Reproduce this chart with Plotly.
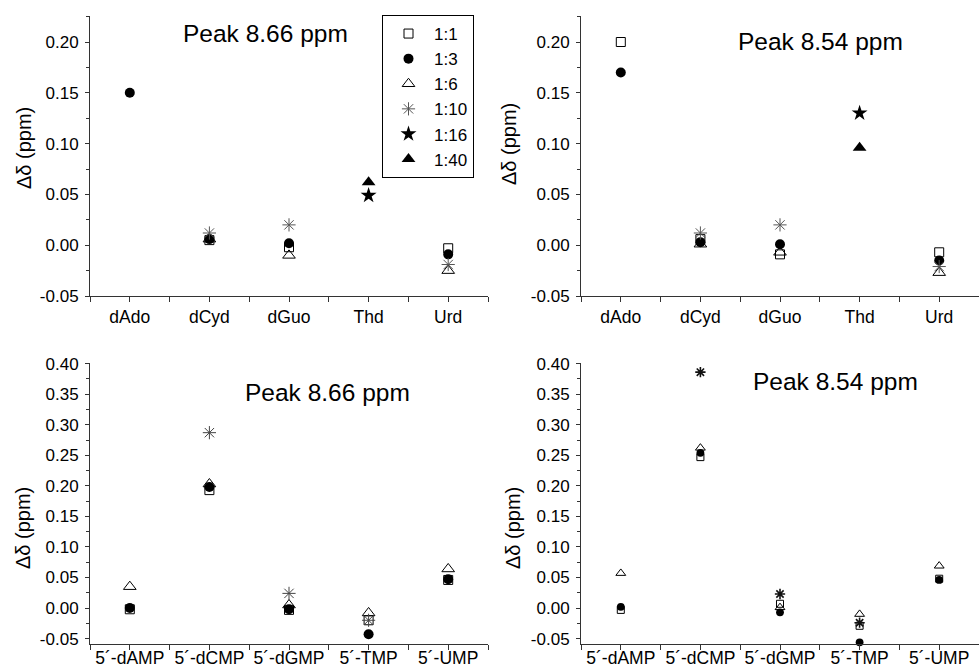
import plotly.graph_objects as go

W, H = 979, 667

nucleosides = ["dAdo", "dCyd", "dGuo", "Thd", "Urd"]
nucleotides = ["5´-dAMP", "5´-dCMP", "5´-dGMP", "5´-TMP", "5´-UMP"]
ratios = ["1:1", "1:3", "1:6", "1:10", "1:16", "1:40"]

# Top-left: nucleosides, peak 8.66 ppm
tl = {
    "1:1":  [None, 0.005, -0.002, None, -0.003],
    "1:3":  [0.150, 0.006, 0.002, None, -0.009],
    "1:6":  [None, 0.006, -0.010, None, -0.025],
    "1:10": [None, 0.012, 0.020, None, -0.019],
    "1:16": [None, None, None, 0.049, None],
    "1:40": [None, None, None, 0.062, None],
}
# Top-right: nucleosides, peak 8.54 ppm
tr = {
    "1:1":  [0.200, 0.006, -0.009, None, -0.007],
    "1:3":  [0.170, 0.003, 0.001, None, -0.015],
    "1:6":  [None, 0.001, -0.007, None, -0.027],
    "1:10": [None, 0.012, 0.020, None, -0.021],
    "1:16": [None, None, None, 0.130, None],
    "1:40": [None, None, None, 0.096, None],
}
# Bottom-left: nucleotides, peak 8.66 ppm
bl = {
    "1:1":  [-0.002, 0.193, -0.003, -0.020, 0.046],
    "1:3":  [0.000, 0.198, -0.002, -0.043, 0.047],
    "1:6":  [0.035, 0.203, 0.005, -0.008, 0.064],
    "1:10": [None, 0.287, 0.024, -0.020, None],
    "1:16": [None, None, None, None, None],
    "1:40": [None, None, None, None, None],
}
# Bottom-right: nucleotides, peak 8.54 ppm
br = {
    "1:1":  [-0.003, 0.247, 0.007, -0.029, 0.048],
    "1:3":  [0.002, 0.254, -0.007, -0.056, 0.046],
    "1:6":  [0.057, 0.262, 0.001, -0.010, 0.069],
    "1:10": [None, 0.386, 0.023, -0.024, None],
    "1:16": [None, None, None, None, None],
    "1:40": [None, None, None, None, None],
}

yticks_top = [-0.05, 0.00, 0.05, 0.10, 0.15, 0.20]
yticks_bot = [-0.05, 0.00, 0.05, 0.10, 0.15, 0.20, 0.25, 0.30, 0.35, 0.40]

styles = {
    "1:1":  dict(symbol="square-open", size=9, color="black", lw=1),
    "1:3":  dict(symbol="circle", size=10, color="black", lw=0),
    "1:6":  dict(symbol="triangle-up-open", size=11, color="black", lw=1),
    "1:10": dict(symbol="asterisk-open", size=11, color="#555555", lw=1),
    "1:16": dict(symbol="star", size=12, color="black", lw=0),
    "1:40": dict(symbol="triangle-up", size=12, color="black", lw=0),
}

FONT = "Liberation Sans, Arial, sans-serif"

def px_x(x):
    return x / W

def px_y(y):
    return 1 - y / H

fig = go.Figure()

panels = [
    (tl, nucleosides, "x", "y", True, 1.0, "#555555"),
    (tr, nucleosides, "x2", "y2", False, 1.0, "#555555"),
    (bl, nucleotides, "x3", "y3", False, 1.0, "#444444"),
    (br, nucleotides, "x4", "y4", False, 0.78, "#111111"),
]

for data, cats, xa, ya, show, scale, astcol in panels:
    xs = list(range(len(cats)))
    for r in ratios:
        st = styles[r]
        col = astcol if r == "1:10" else st["color"]
        lw = st["lw"] * (1.6 if (r == "1:10" and scale < 1) else 1)
        fig.add_trace(go.Scatter(
            x=xs, y=data[r], mode="markers", name=r,
            xaxis=xa, yaxis=ya, legendgroup=r, showlegend=show, cliponaxis=False,
            marker=dict(symbol=st["symbol"], size=st["size"] * scale,
                        color=col, line=dict(width=lw, color=col)),
        ))

ax_common = dict(showline=True, linecolor="#333333", linewidth=1, mirror=False,
                 showgrid=False, zeroline=False, ticks="outside", tickcolor="#333333",
                 tickwidth=1, automargin=False,
                 tickfont=dict(family=FONT, size=17.5, color="black"))

def xaxis(domain, cats, standoff):
    return dict(ax_common, domain=domain, range=[-0.5, 4.5],
                tickmode="array", tickvals=list(range(len(cats))), ticktext=cats,
                ticklen=5, ticklabelstandoff=standoff,
                minor=dict(tickmode="array", tickvals=[i + 0.5 for i in range(-1, len(cats))],
                           ticks="outside", ticklen=5, tickcolor="#333333"))

def yaxis(domain, rng, ticks, anchor):
    return dict(ax_common, domain=domain, range=rng, anchor=anchor,
                tickmode="array", tickvals=ticks, ticktext=[f"{v:.2f}" for v in ticks],
                ticklen=4, ticklabelstandoff=3,
                tickfont=dict(family=FONT, size=17, color="black"),
                minor=dict(tickmode="array",
                           tickvals=[round(v + 0.025, 3) for v in ticks],
                           ticks="outside", ticklen=3, tickcolor="#333333"))

xl = [px_x(90), px_x(488)]
xr = [px_x(581), 1.0]
yt = [px_y(296), px_y(16)]
yb = [px_y(643.5), px_y(363)]

fig.update_layout(
    width=W, height=H, margin=dict(l=0, r=0, t=0, b=0, autoexpand=False),
    paper_bgcolor="white", plot_bgcolor="white",
    font=dict(family=FONT, color="black"),
    xaxis=dict(xaxis(xl, nucleosides, 0), anchor="y"),
    yaxis=yaxis(yt, [-0.05, 0.2256], yticks_top, "x"),
    xaxis2=dict(xaxis(xr, nucleosides, 0), anchor="y2"),
    yaxis2=yaxis(yt, [-0.05, 0.2256], yticks_top, "x2"),
    xaxis3=dict(xaxis(xl, nucleotides, -7), anchor="y3"),
    yaxis3=yaxis(yb, [-0.058, 0.401], yticks_bot, "x3"),
    xaxis4=dict(xaxis(xr, nucleotides, -7), anchor="y4"),
    yaxis4=yaxis(yb, [-0.058, 0.401], yticks_bot, "x4"),
    legend=dict(x=px_x(382), y=px_y(15), xanchor="left", yanchor="top",
                bordercolor="black", borderwidth=1, bgcolor="white",
                font=dict(family=FONT, size=17, color="black"),
                itemwidth=41, tracegroupgap=0),
)

titles = [("Peak 8.66 ppm", 265, 33), ("Peak 8.54 ppm", 820, 42),
          ("Peak 8.66 ppm", 327, 392), ("Peak 8.54 ppm", 835, 381)]
for t, x, y in titles:
    fig.add_annotation(text=t, x=px_x(x), y=px_y(y), xref="paper", yref="paper",
                       showarrow=False, xanchor="center", yanchor="middle",
                       font=dict(family=FONT, size=24.5, color="black"))

ytitles = [(24, 148), (509, 144), (23, 528), (513, 528)]
for x, y in ytitles:
    fig.add_annotation(text="Δδ (ppm)", x=px_x(x), y=px_y(y), xref="paper", yref="paper",
                       showarrow=False, xanchor="center", yanchor="middle", textangle=-90,
                       font=dict(family=FONT, size=20, color="black"))

fig.write_html("out.html", config={"displayModeBar": False},
               post_script="document.body.style.margin='0';document.body.style.overflow='hidden';")
